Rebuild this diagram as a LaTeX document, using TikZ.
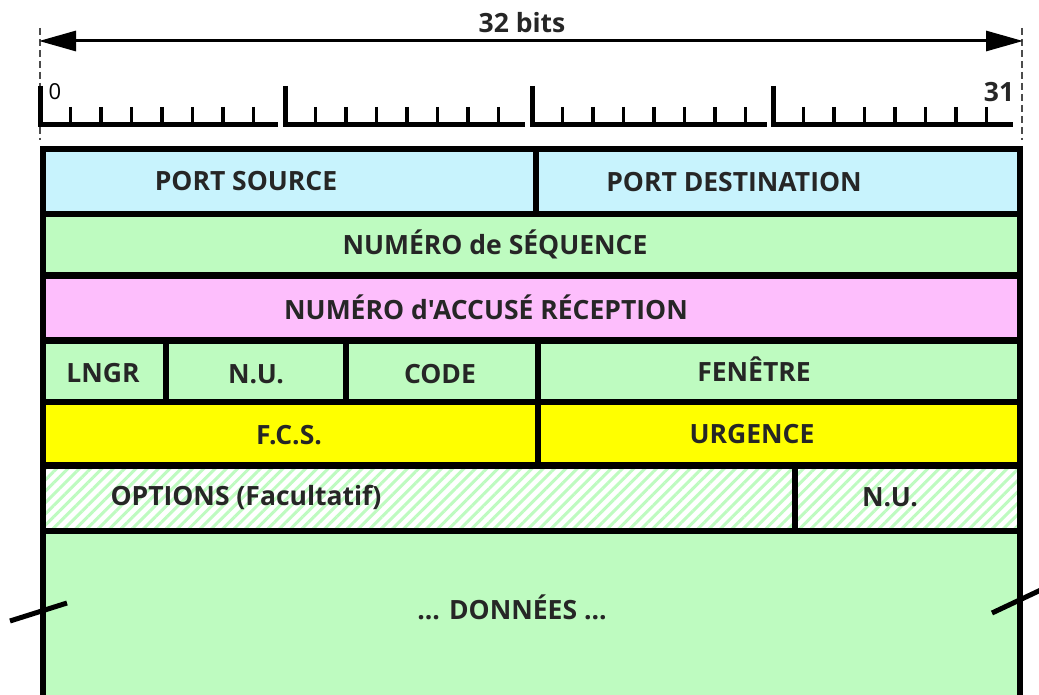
\documentclass[tikz,border=0pt]{standalone}
\usepackage{fontspec}
\newfontfamily\lblfont{Open Sans}
\usetikzlibrary{arrows.meta,patterns.meta}
\definecolor{cblue}{HTML}{C8F3FD}
\definecolor{cgreen}{HTML}{BEFBC0}
\definecolor{cpink}{HTML}{FDBEFC}
\definecolor{cyellow}{HTML}{FFFF00}
\definecolor{hgreen}{HTML}{BEFBC0}
\newcommand{\fieldcell}[6]{%
  \node[cell, fill=#6, minimum width={#4-#2}, minimum height={#5-#3}] (#1) at (#2,#3) {};}
\newcommand{\hatchcell}[5]{%
  \node[cell, preaction={fill=white}, pattern={Lines[angle=45,distance=8pt,line width=3pt]}, pattern color=hgreen, minimum width={#4-#2}, minimum height={#5-#3}] (#1) at (#2,#3) {};}
\begin{document}
\begin{tikzpicture}[x=1pt,y=-1pt,
  cell/.style={draw=black, line width=6.5pt, inner sep=0pt, outer sep=0pt, anchor=north west, line join=miter},
  lbl/.style={font=\lblfont\bfseries\fontsize{26.5}{31}\selectfont, inner sep=0pt, text=black!85},
  rulerline/.style={line width=5pt, line join=miter, line cap=butt},
  tickline/.style={line width=3.5pt, line cap=butt},
  guide/.style={line width=1.2pt, dash pattern=on 7pt off 4pt, black!70},
  dimarrow/.style={line width=3pt, {Triangle[length=37pt,width=20pt]}-{Triangle[length=37pt,width=20pt]}},
  breakmark/.style={line width=5pt, line cap=butt}]
\useasboundingbox (0,0) rectangle (1039,695);
\clip (0,0) rectangle (1039,695);
% guides and dimension arrow
\draw[guide] (40,28) -- (40,140);
\draw[guide] (1022,28) -- (1022,140);
\coordinate (aL) at (39,41);
\coordinate (aR) at (1023,41);
\draw[dimarrow] (aL) -- (aR);
\node[lbl] (bits) at (522,23) {32 bits};
% ruler
\foreach \s/\e in {40/278, 285/525, 532/767, 773/1013} {
  \draw[rulerline] (\s,86) -- (\s,125) -- (\e,125);
  \foreach \k in {1,...,7} {
    \draw[tickline] ({\s+30.5*\k},107) -- ({\s+30.5*\k},125);
  }
}
\node[font=\lblfont\fontsize{22}{26}\selectfont, inner sep=0pt] (zero) at (55,92) {0};
\node[lbl] (thirtyone) at (999,92) {31};
% cells
\fieldcell{ps}{43}{149}{536}{214}{cblue}
\fieldcell{pd}{536}{149}{1020}{214}{cblue}
\fieldcell{seq}{43}{214}{1020}{275.5}{cgreen}
\fieldcell{ack}{43}{275.5}{1020}{340.5}{cpink}
\fieldcell{lngr}{43}{340.5}{166}{402}{cgreen}
\fieldcell{nu}{166}{340.5}{346}{402}{cgreen}
\fieldcell{code}{346}{340.5}{538}{402}{cgreen}
\fieldcell{win}{538}{340.5}{1020}{402}{cgreen}
\fieldcell{fcs}{43}{402}{538}{465.5}{cyellow}
\fieldcell{urg}{538}{402}{1020}{465.5}{cyellow}
\hatchcell{opt}{43}{465.5}{795}{531}
\hatchcell{nu2}{795}{465.5}{1020}{531}
\fieldcell{data}{43}{531}{1020}{730}{cgreen}
% labels
\node[lbl] (tps) at (246,181) {PORT SOURCE};
\node[lbl] (tpd) at (734,182) {PORT DESTINATION};
\node[lbl] (tseq) at (495,244) {NUMÉRO de SÉQUENCE};
\node[lbl] (tack) at (486,307) {NUMÉRO d'ACCUSÉ RÉCEPTION};
\node[lbl] (tlngr) at (103,373) {LNGR};
\node[lbl] (tnu) at (256,374) {N.U.};
\node[lbl] (tcode) at (440,374) {CODE};
\node[lbl] (twin) at (754,369) {FENÊTRE};
\node[lbl] (tfcs) at (289,435) {F.C.S.};
\node[lbl] (turg) at (752,434) {URGENCE};
\node[lbl] (topt) at (246,497) {OPTIONS (Facultatif)};
\node[lbl] (tnu2) at (890,497) {N.U.};
\node[lbl] (tdata) at (512,607) {... DONNÉES ...};
% break marks
\draw[breakmark] (10,621) -- (67,603);
\draw[breakmark] (992,613) -- (1045,588);
\end{tikzpicture}
\end{document}
